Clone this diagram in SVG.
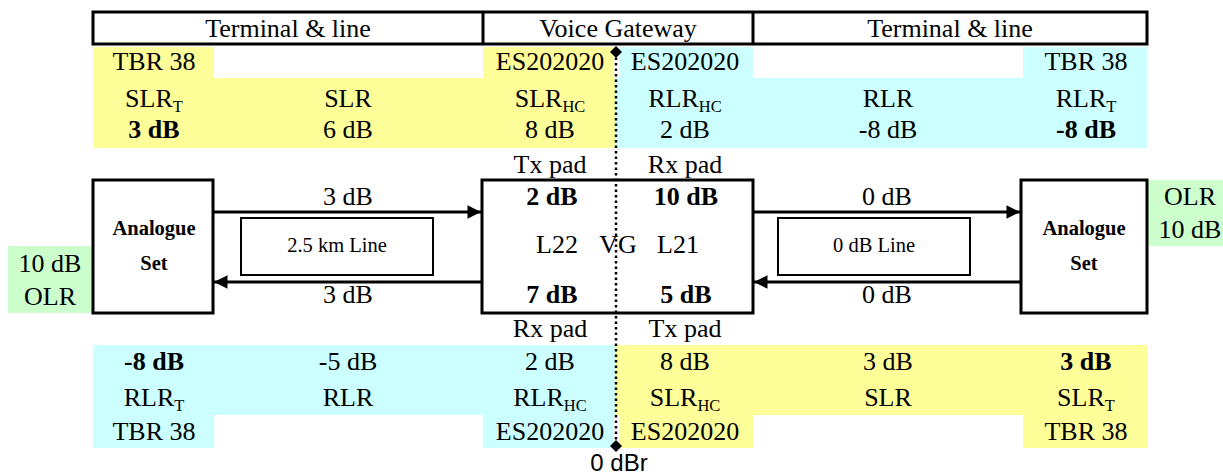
<svg xmlns="http://www.w3.org/2000/svg" width="1223" height="474" viewBox="0 0 1223 474">
<defs>
<style>
text{font-family:"Liberation Serif","Times New Roman",serif;font-size:26px;fill:#000;text-anchor:middle}
.b{font-weight:bold}
.s{font-size:20.5px}
.sub{font-size:16.5px}
.sans{font-family:"Liberation Sans",Arial,sans-serif;font-size:24px}
.y{fill:#FFFF99}
.c{fill:#CCFFFF}
.g{fill:#CCFFCC}
.box{fill:#fff;stroke:#000;stroke-width:3}
.thin{fill:#fff;stroke:#000;stroke-width:2}
.ln{stroke:#000;stroke-width:3;fill:none}
</style>
<marker id="ah" viewBox="0 0 10 10" refX="10" refY="5" markerWidth="6" markerHeight="4.5" markerUnits="strokeWidth" orient="auto">
<path d="M0,0 L10,5 L0,10 z" fill="#000"/>
</marker>
</defs>
<rect width="1223" height="474" fill="#fff"/>

<g id="backgrounds">
<rect class="y" x="93" y="47" width="121" height="31"/>
<rect class="y" x="483" y="47" width="130" height="31"/>
<rect class="y" x="93" y="78" width="523" height="70"/>
<rect class="c" x="619" y="47" width="134" height="31"/>
<rect class="c" x="1023" y="47" width="124" height="31"/>
<rect class="c" x="616" y="78" width="531" height="70"/>
<rect class="c" x="93" y="345" width="523" height="70"/>
<rect class="c" x="93" y="415" width="121" height="33"/>
<rect class="c" x="483" y="415" width="131" height="33"/>
<rect class="y" x="616" y="345" width="531" height="70"/>
<rect class="y" x="619" y="415" width="134" height="33"/>
<rect class="y" x="1023" y="415" width="124" height="33"/>
</g>

<g id="header">
<rect x="93" y="12" width="1054" height="32" fill="#fff" stroke="#000" stroke-width="3"/>
<line x1="483" y1="12" x2="483" y2="44" class="ln"/>
<line x1="753" y1="12" x2="753" y2="44" class="ln"/>
<text x="288" y="37">Terminal &amp; line</text>
<text x="618" y="37">Voice Gateway</text>
<text x="950" y="37">Terminal &amp; line</text>
</g>

<g id="top-table">
<text x="154" y="70">TBR 38</text>
<text x="550" y="70">ES202020</text>
<text x="685" y="70">ES202020</text>
<text x="1086" y="70">TBR 38</text>
<text x="154" y="107">SLR<tspan class="sub" dy="5">T</tspan></text>
<text x="348" y="107">SLR</text>
<text x="550" y="107">SLR<tspan class="sub" dy="5">HC</tspan></text>
<text x="685" y="107">RLR<tspan class="sub" dy="5">HC</tspan></text>
<text x="888" y="107">RLR</text>
<text x="1086" y="107">RLR<tspan class="sub" dy="5">T</tspan></text>
<text x="154" y="138" class="b">3 dB</text>
<text x="348" y="138">6 dB</text>
<text x="550" y="138">8 dB</text>
<text x="685" y="138">2 dB</text>
<text x="888" y="138">-8 dB</text>
<text x="1086" y="138" class="b">-8 dB</text>
<text x="550" y="173">Tx pad</text>
<text x="685" y="173">Rx pad</text>
</g>

<g id="bottom-table">
<text x="550" y="337">Rx pad</text>
<text x="685" y="337">Tx pad</text>
<text x="154" y="370" class="b">-8 dB</text>
<text x="348" y="370">-5 dB</text>
<text x="550" y="370">2 dB</text>
<text x="685" y="370">8 dB</text>
<text x="888" y="370">3 dB</text>
<text x="1086" y="370" class="b">3 dB</text>
<text x="154" y="406">RLR<tspan class="sub" dy="5">T</tspan></text>
<text x="348" y="406">RLR</text>
<text x="550" y="406">RLR<tspan class="sub" dy="5">HC</tspan></text>
<text x="685" y="406">SLR<tspan class="sub" dy="5">HC</tspan></text>
<text x="888" y="406">SLR</text>
<text x="1086" y="406">SLR<tspan class="sub" dy="5">T</tspan></text>
<text x="154" y="440">TBR 38</text>
<text x="550" y="440">ES202020</text>
<text x="685" y="440">ES202020</text>
<text x="1086" y="440">TBR 38</text>
</g>

<g id="olr-left">
<rect class="g" x="8" y="246" width="85" height="67"/>
<text x="50" y="272">10 dB</text>
<text x="50" y="305">OLR</text>
</g>
<g id="olr-right">
<rect class="g" x="1147" y="180" width="76" height="66"/>
<text x="1190" y="205">OLR</text>
<text x="1190" y="238">10 dB</text>
</g>

<g id="set-left">
<rect class="box" x="93" y="180" width="120" height="133"/>
<text x="154" y="235" class="b s">Analogue</text>
<text x="154" y="270" class="b s">Set</text>
</g>
<g id="line-left">
<rect class="thin" x="241" y="218" width="192" height="57"/>
<text x="337" y="252" class="s">2.5 km Line</text>
</g>
<g id="vg">
<rect class="box" x="482" y="180" width="271" height="133"/>
<text x="552" y="205" class="b">2 dB</text>
<text x="686" y="205" class="b">10 dB</text>
<text x="557" y="253">L22</text>
<text x="618" y="253">VG</text>
<text x="678" y="253">L21</text>
<text x="552" y="303" class="b">7 dB</text>
<text x="686" y="303" class="b">5 dB</text>
</g>
<g id="line-right">
<rect class="thin" x="778" y="218" width="192" height="57"/>
<text x="874" y="252" class="s">0 dB Line</text>
</g>
<g id="set-right">
<rect class="box" x="1021" y="180" width="126" height="133"/>
<text x="1084" y="235" class="b s">Analogue</text>
<text x="1084" y="270" class="b s">Set</text>
</g>

<g id="connectors">
<line x1="213" y1="212" x2="481" y2="212" class="ln" marker-end="url(#ah)"/>
<line x1="482" y1="282" x2="214" y2="282" class="ln" marker-end="url(#ah)"/>
<line x1="753" y1="212" x2="1020" y2="212" class="ln" marker-end="url(#ah)"/>
<line x1="1021" y1="282" x2="754" y2="282" class="ln" marker-end="url(#ah)"/>
<text x="348" y="205">3 dB</text>
<text x="348" y="303">3 dB</text>
<text x="887" y="205">0 dB</text>
<text x="887" y="303">0 dB</text>
</g>

<g id="reference-line">
<line x1="616" y1="52" x2="616" y2="446" stroke="#000" stroke-width="2.5" stroke-dasharray="2.5 3"/>
<path d="M616,46 L622,52 L616,58 L610,52 z" fill="#000"/>
<path d="M616,440 L622,446 L616,452 L610,446 z" fill="#000"/>
<text x="619" y="471" class="sans">0 dBr</text>
</g>
</svg>
